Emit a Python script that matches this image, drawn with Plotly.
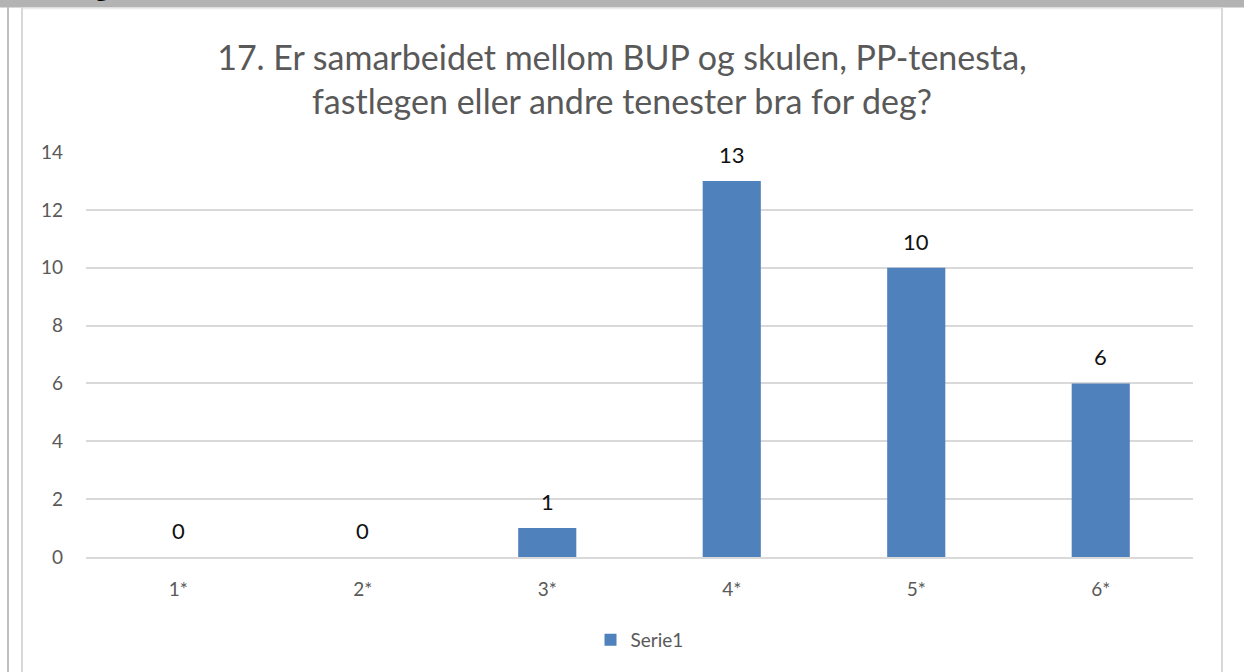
import plotly.graph_objects as go

categories = ["1*", "2*", "3*", "4*", "5*", "6*"]
values = [0, 0, 1, 13, 10, 6]
series_name = "Serie1"
title_lines = ["17. Er samarbeidet mellom BUP og skulen, PP-tenesta,",
               "fastlegen eller andre tenester bra for deg?"]
y_ticks = [0, 2, 4, 6, 8, 10, 12, 14]

W, H = 1244, 672
ML, MR, MT, MB = 86, 51, 152, 115
FONT = "Lato, 'Open Sans', Arial, sans-serif"

fig = go.Figure()
fig.add_trace(go.Bar(
    x=categories, y=values, name=series_name,
    marker=dict(color="#4f81bd", line=dict(width=0)),
    showlegend=True,
))

annotations = []
for c, v in zip(categories, values):
    annotations.append(dict(
        x=c, y=v, xref="x", yref="y", text=str(v), showarrow=False,
        yanchor="bottom", yshift=11,
        font=dict(size=22, color="#111111", family=FONT),
    ))

def px_x(px):
    return (px - ML) / (W - ML - MR)

def px_y(py):
    return (H - MB - py) / (H - MT - MB)

# "g" descender of cropped heading above the chart
annotations.append(dict(
    x=px_x(102), y=px_y(4), xref="paper", yref="paper", text="<b>g</b>",
    showarrow=False, xanchor="center", yanchor="bottom",
    font=dict(size=22, color="#000000", family="Open Sans, Arial, sans-serif"),
))

shapes = [
    # top gray band
    dict(type="rect", xref="paper", yref="paper", x0=px_x(-5), x1=px_x(W + 5),
         y0=px_y(7.5), y1=px_y(-5), fillcolor="#b3b3b3", line=dict(width=0), layer="below"),
    dict(type="line", xref="paper", yref="paper", x0=px_x(22), x1=px_x(1222),
         y0=px_y(8.5), y1=px_y(8.5), line=dict(color="#ececec", width=1.5)),
    # left dark line
    dict(type="line", xref="paper", yref="paper", x0=px_x(8), x1=px_x(8),
         y0=px_y(7), y1=px_y(H + 5), line=dict(color="#bfbfbf", width=2)),
    # left light line
    dict(type="line", xref="paper", yref="paper", x0=px_x(22), x1=px_x(22),
         y0=px_y(7), y1=px_y(H + 5), line=dict(color="#d9d9d9", width=2)),
    # right light line
    dict(type="line", xref="paper", yref="paper", x0=px_x(1222), x1=px_x(1222),
         y0=px_y(7), y1=px_y(H + 5), line=dict(color="#d9d9d9", width=2)),
]

fig.update_layout(
    width=W, height=H,
    margin=dict(l=ML, r=MR, t=MT, b=MB, pad=0),
    paper_bgcolor="white", plot_bgcolor="white",
    title=dict(
        text="<br>".join(title_lines),
        x=0.5, xanchor="center", y=1 - 70 / H, yanchor="middle",
        font=dict(size=34, color="#595959", family=FONT, weight=400),
    ),
    bargap=0.685,
    xaxis=dict(
        tickfont=dict(size=19, color="#595959", family=FONT),
        showgrid=False, showline=True, linecolor="#d9d9d9", linewidth=1.5,
        ticks="", ticklabelstandoff=14,
    ),
    yaxis=dict(
        range=[0, 14], tickvals=y_ticks,
        tickfont=dict(size=19, color="#595959", family=FONT),
        showgrid=True, gridcolor="#d9d9d9", gridwidth=1.5,
        zeroline=False, showline=False, ticks="", ticklabelstandoff=22,
    ),
    legend=dict(
        orientation="h", x=0.5, xanchor="center", y=px_y(640), yanchor="middle",
        font=dict(size=19, color="#595959", family=FONT),
        itemwidth=30,
    ),
    annotations=annotations,
    shapes=shapes,
)

fig.write_html("out.html", config={"displayModeBar": False},
               post_script="document.body.style.margin='0';document.body.style.overflow='hidden';")
